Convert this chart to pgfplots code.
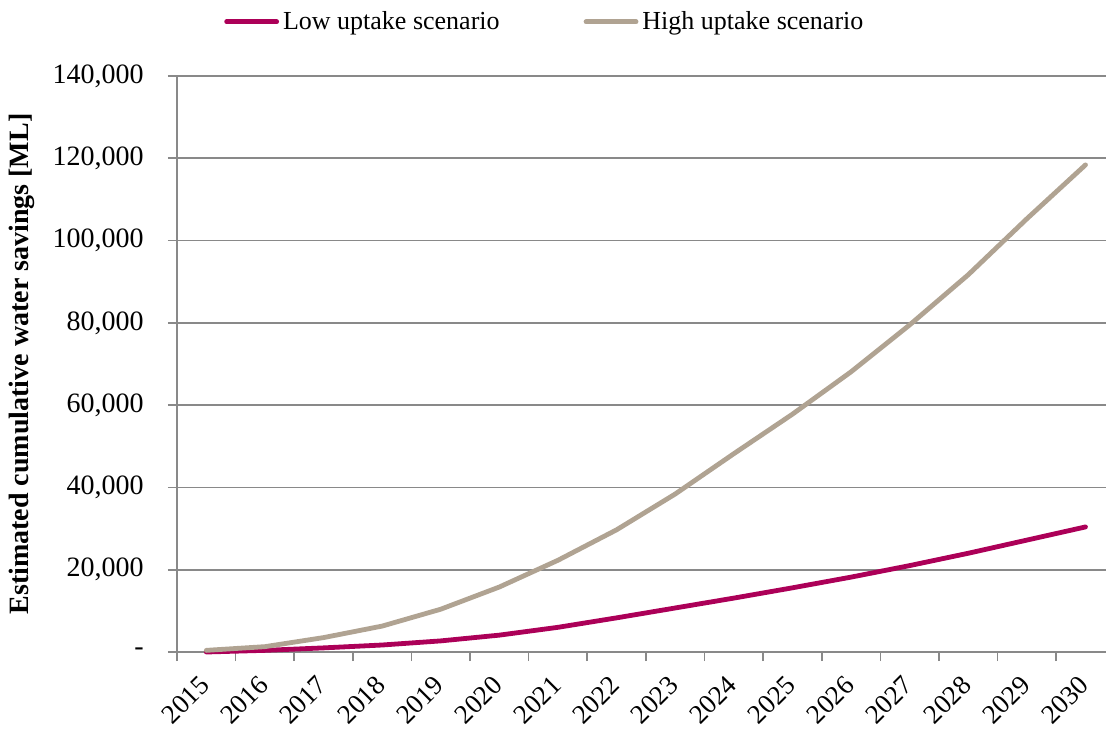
\documentclass[border=0pt]{standalone}
\usepackage{pgfplots}
\pgfplotsset{compat=1.18}
\usepackage{fontspec}
\setmainfont{Liberation Serif}
\definecolor{lowc}{RGB}{172,0,88}
\definecolor{highc}{RGB}{176,163,146}
\definecolor{axgray}{RGB}{137,137,137}
\begin{document}
\begin{tikzpicture}
\begin{axis}[
  scale only axis,
  width=464.5pt, height=288pt,
  xmin=-0.5, xmax=15.35,
  ymin=0, ymax=140000,
  axis x line=bottom, axis y line=left,
  axis line style={-, draw=axgray, line width=0.8pt},
  tick style={draw=axgray, line width=0.8pt},
  tick align=outside,
  xtick={0,...,15},
  xticklabels={2015,2016,2017,2018,2019,2020,2021,2022,2023,2024,2025,2026,2027,2028,2029,2030},
  major x tick style={draw=none},
  minor xtick={-0.5,0.5,...,14.5},
  minor tick length=4.5pt,
  major tick length=4.5pt,
  scaled y ticks=false,
  ytick={0,20000,...,140000},
  yticklabels={{-\hspace{5.5pt}},{20,000},{40,000},{60,000},{80,000},{100,000},{120,000},{140,000}},
  ymajorgrids,
  grid style={draw=axgray, line width=0.8pt},
  font=\fontsize{14}{16}\selectfont,
  xticklabel style={xshift=-4pt, yshift=-6.5pt, rotate=45, anchor=north east, inner sep=0pt, font=\fontsize{13.5}{15}\selectfont},
  yticklabel style={anchor=east, inner sep=0pt, xshift=-12pt},
  ylabel={\bfseries Estimated cumulative water savings [ML]},
  ylabel style={at={(axis description cs:-0.1668,0.5)}, anchor=center, font=\fontsize{14}{16}\selectfont},
  legend style={at={(axis description cs:0.397,1.094)}, anchor=center, draw=none, fill=none,
    legend columns=-1, font=\fontsize{13}{15}\selectfont,
    /tikz/every even column/.append style={column sep=40pt},
    /tikz/every odd column/.append style={column sep=0pt}},
  legend image code/.code={\draw[#1, line cap=round] (0pt,0pt) -- (25pt,0pt);},
  clip=false,
]
\coordinate (BL) at (axis description cs:0,0);
\coordinate (TR) at (axis description cs:1,1);
\addplot[lowc, line width=2.4pt, line cap=round, line join=round] coordinates {
(0,0) (1,400) (2,1000) (3,1700) (4,2700) (5,4100) (6,6000) (7,8300) (8,10700) (9,13100) (10,15600) (11,18200) (12,21000) (13,24000) (14,27200) (15,30400)};
\addlegendentry{Low uptake scenario}
\addplot[highc, line width=2.4pt, line cap=round, line join=round] coordinates {
(0,400) (1,1300) (2,3500) (3,6300) (4,10400) (5,15800) (6,22300) (7,29700) (8,38400) (9,48200) (10,57800) (11,68100) (12,79500) (13,91700) (14,105300) (15,118400)};
\addlegendentry{High uptake scenario}
\end{axis}
\pgfresetboundingbox
\path ([xshift=-88.5pt, yshift=-38pt]BL) rectangle ([yshift=38pt]TR);
\end{tikzpicture}
\end{document}
